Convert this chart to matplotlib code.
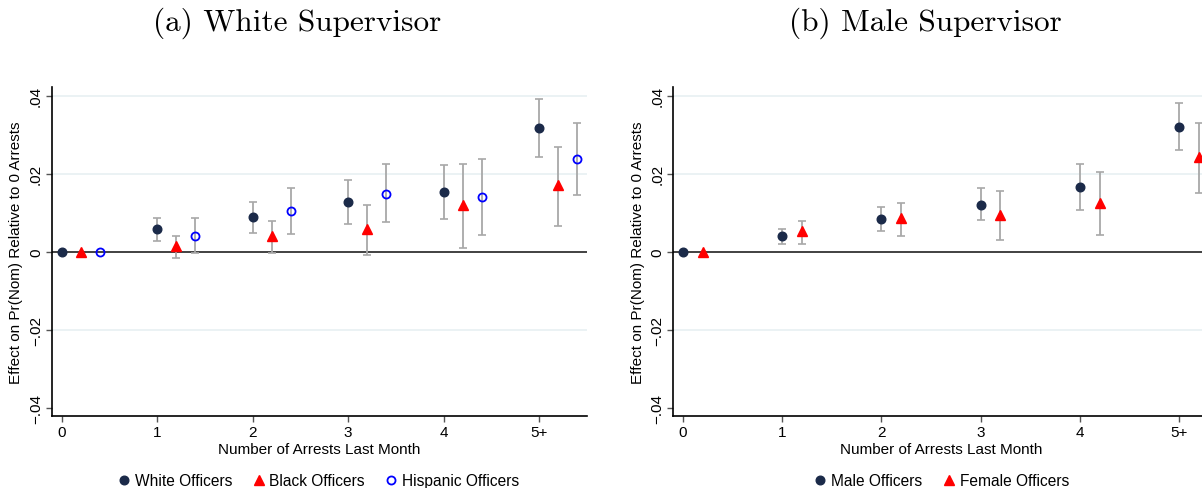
import numpy as np
import matplotlib
matplotlib.use('Agg')
import matplotlib.pyplot as plt
from matplotlib.lines import Line2D

plt.rcParams['font.family'] = ['Liberation Sans', 'DejaVu Sans']

W, H = 1202, 489

xticks = [0, 1, 2, 3, 4, 5]
xticklabels = ['0', '1', '2', '3', '4', '5+']
yticks = [-0.04, -0.02, 0, 0.02, 0.04]
yticklabels = ['\u2212.04', '\u2212.02', '0', '.02', '.04']

# panel (a) white supervisor
white_est = [0, 0.0058, 0.0088, 0.0127, 0.0153, 0.0317]
white_lo = [0, 0.0028, 0.0049, 0.0072, 0.0085, 0.0243]
white_hi = [0, 0.0086, 0.0127, 0.0184, 0.0223, 0.0391]
black_est = [0, 0.0015, 0.0041, 0.0057, 0.0119, 0.0170]
black_lo = [0, -0.0016, -0.0003, -0.0009, 0.0009, 0.0067]
black_hi = [0, 0.0040, 0.0080, 0.0119, 0.0224, 0.0269]
hisp_est = [0, 0.0041, 0.0104, 0.0149, 0.0140, 0.0237]
hisp_lo = [0, -0.0003, 0.0045, 0.0075, 0.0044, 0.0145]
hisp_hi = [0, 0.0086, 0.0164, 0.0224, 0.0238, 0.0329]

# panel (b) male supervisor
male_est = [0, 0.0040, 0.0084, 0.0121, 0.0167, 0.0320]
male_lo = [0, 0.0019, 0.0053, 0.0081, 0.0108, 0.0262]
male_hi = [0, 0.0059, 0.0114, 0.0163, 0.0225, 0.0380]
fem_est = [0, 0.0052, 0.0086, 0.0095, 0.0126, 0.0242]
fem_lo = [0, 0.0021, 0.0041, 0.0031, 0.0043, 0.0151]
fem_hi = [0, 0.0080, 0.0126, 0.0155, 0.0205, 0.0329]

NAVY = '#1b2a49'
RED = '#ff0000'
BLUE = '#0000ff'
GRAY = '#a8a8a8'

fig = plt.figure(figsize=(W / 100, H / 100), dpi=100)


def px_axes(x0, x1, y0, y1):
    return fig.add_axes([x0 / W, 1 - y1 / H, (x1 - x0) / W, (y1 - y0) / H])


def series(ax, shift, est, lo, hi, style):
    x = np.array(xticks) + shift
    est = np.array(est); lo = np.array(lo); hi = np.array(hi)
    m = hi > lo
    ax.errorbar(x[m], est[m], yerr=[est[m] - lo[m], hi[m] - est[m]], fmt='none',
                ecolor=GRAY, elinewidth=1.3, capsize=3, capthick=1.2, zorder=3)
    ax.plot(x, est, linestyle='none', zorder=4, clip_on=False, **style)


def setup(ax, xlim):
    ax.set_xlim(*xlim)
    ax.set_ylim(-0.04205, 0.04223)
    for y in [-0.02, 0.02, 0.04]:
        ax.axhline(y, color='#e8f0f2', lw=1.2, zorder=1)
    ax.axhline(0, color='#333333', lw=1.3, zorder=2)
    ax.spines['top'].set_visible(False)
    ax.spines['right'].set_visible(False)
    for s in ['left', 'bottom']:
        ax.spines[s].set_linewidth(1.2)
        ax.spines[s].set_color('black')
    ax.set_xticks(xticks)
    ax.set_xticklabels(xticklabels, fontsize=11)
    ax.set_yticks(yticks)
    ax.set_yticklabels(yticklabels, fontsize=11, rotation=90, va='center')
    ax.tick_params(length=4.5, width=1, color='#555555', pad=2)
    ax.set_ylabel('Effect on Pr(Nom) Relative to 0 Arrests', fontsize=11, labelpad=4)
    ax.set_xlabel('Number of Arrests Last Month', fontsize=11, labelpad=2)


s_white = dict(marker='o', ms=6.2, color=NAVY, mec=NAVY)
s_black = dict(marker='^', ms=7.5, color=RED, mec=RED)
s_hisp = dict(marker='o', ms=5.8, mfc='none', mec=BLUE, mew=1.3)

ax1 = px_axes(52, 587, 88, 416.7)
setup(ax1, (-0.1, 5.5))
series(ax1, 0.0, white_est, white_lo, white_hi, s_white)
series(ax1, 0.2, black_est, black_lo, black_hi, s_black)
series(ax1, 0.4, hisp_est, hisp_lo, hisp_hi, s_hisp)

ax2 = px_axes(673.3, 1209, 88, 416.7)
setup(ax2, (-0.095, 5.3))
series(ax2, 0.0, male_est, male_lo, male_hi, s_white)
series(ax2, 0.2, fem_est, fem_lo, fem_hi, s_black)

fig.text(297 / W, 1 - 23 / H, '(a) White Supervisor', family='cmr10', fontsize=22.5,
         ha='center', va='center')
fig.text(925 / W, 1 - 23 / H, '(b) Male Supervisor', family='cmr10', fontsize=22.5,
         ha='center', va='center')


def handle(style):
    return Line2D([], [], linestyle='none', **style)


kw = dict(loc='center', ncol=3, frameon=False, fontsize=11.2, handletextpad=0.1,
          columnspacing=1.1, handlelength=1.2)
fig.legend([handle(s_white), handle(s_black), handle(s_hisp)],
           ['White Officers', 'Black Officers', 'Hispanic Officers'],
           bbox_to_anchor=(317 / W, 1 - 482 / H), **kw)
fig.legend([handle(s_white), handle(s_black)],
           ['Male Officers', 'Female Officers'],
           bbox_to_anchor=(940 / W, 1 - 482 / H), **kw)

fig.savefig('out.png', dpi=100)
